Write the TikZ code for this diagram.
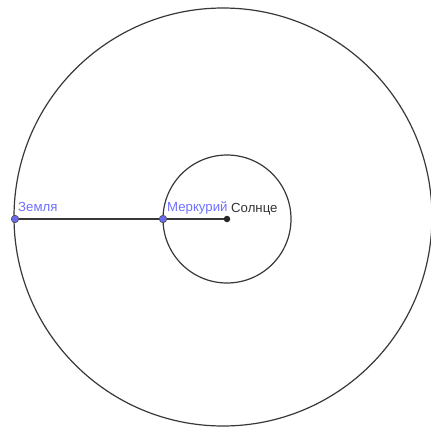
\documentclass[tikz,border=0pt]{standalone}
\usepackage{fontspec}
\setmainfont{Liberation Sans}
\definecolor{ptblue}{HTML}{6A6AF0}
\definecolor{lblblue}{HTML}{7070FF}
\begin{document}
\begin{tikzpicture}[x=1pt,y=-1pt,
  orbit/.style={draw=black!78,line width=1.2pt},
  planet/.style={circle,draw=black!70,fill=ptblue,inner sep=0pt,minimum size=7.5pt,line width=0.6pt},
  sunpt/.style={circle,fill=black!85,inner sep=0pt,minimum size=6.5pt},
  lbl/.style={font=\fontsize{13.2}{15}\selectfont,anchor=base west,inner sep=0pt}]
\useasboundingbox (0,0) rectangle (431,429);
% orbits
\draw[orbit] (223,217) circle (209);
\draw[orbit] (227,219) circle (64);
% bodies
\node[sunpt] (sun) at (227,219) {};
\node[planet] (earth) at (15,219) {};
\node[planet] (mercury) at (163,219) {};
\draw[orbit] (earth) -- (mercury) -- (sun);
\node[lbl,text=lblblue] (earthlbl) at (18,211) {Земля};
\node[lbl,text=lblblue] (mercurylbl) at (167,211) {Меркурий};
\node[lbl,text=black!80] (sunlbl) at (231,212) {Солнце};
\end{tikzpicture}
\end{document}
